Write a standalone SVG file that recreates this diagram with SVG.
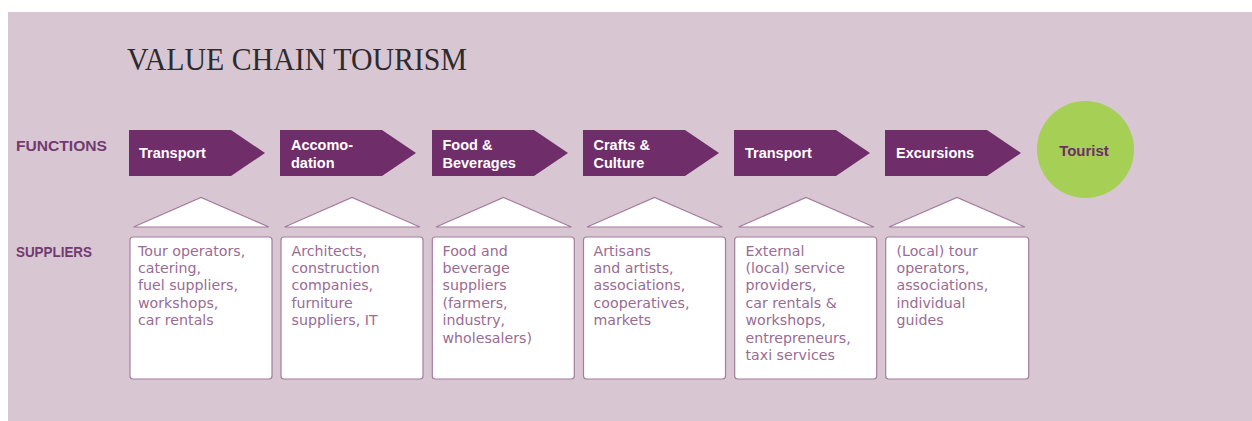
<svg xmlns="http://www.w3.org/2000/svg" width="1252" height="421" viewBox="0 0 1252 421">
<style>
.bg{fill:#d8c7d3}
.arrow{fill:#6f2d6a}
.lab{font-family:"Liberation Sans",Arial,sans-serif;font-weight:bold;font-size:14.5px;fill:#ffffff}
.side{font-family:"Liberation Sans",Arial,sans-serif;font-weight:bold;font-size:15px;fill:#733a70}
.box{fill:#ffffff;stroke:#a47d9f;stroke-width:1.2}
.tri{fill:#ffffff;stroke:#a47d9f;stroke-width:1.2}
.txt{font-family:"DejaVu Sans",Verdana,sans-serif;font-size:14.2px;fill:#9a6b94}
.title{font-family:"Liberation Serif","Times New Roman",serif;font-size:32px;fill:#2e2a2e}
</style>
<rect class="bg" x="8" y="12" width="1244" height="409"/>
<text class="title" x="127" y="70" textLength="340" lengthAdjust="spacingAndGlyphs">VALUE CHAIN TOURISM</text>
<text class="side" x="16" y="150.5" textLength="91" lengthAdjust="spacingAndGlyphs">FUNCTIONS</text>
<text class="side" x="16" y="256.5" textLength="76" lengthAdjust="spacingAndGlyphs">SUPPLIERS</text>

<g id="f1"><polygon class="arrow" points="129,130 231,130 265,153 231,176 129,176"/><text class="lab" x="139" y="157.5">Transport</text></g>
<g id="f2"><polygon class="arrow" points="280,130 382,130 416,153 382,176 280,176"/><text class="lab" x="291" y="149.5">Accomo-</text><text class="lab" x="291" y="168">dation</text></g>
<g id="f3"><polygon class="arrow" points="432,130 534,130 568,153 534,176 432,176"/><text class="lab" x="442.5" y="149.5">Food &amp;</text><text class="lab" x="442.5" y="168">Beverages</text></g>
<g id="f4"><polygon class="arrow" points="583,130 685,130 719,153 685,176 583,176"/><text class="lab" x="593.5" y="149.5">Crafts &amp;</text><text class="lab" x="593.5" y="168">Culture</text></g>
<g id="f5"><polygon class="arrow" points="734,130 836,130 870,153 836,176 734,176"/><text class="lab" x="745" y="157.5">Transport</text></g>
<g id="f6"><polygon class="arrow" points="885,130 987,130 1021,153 987,176 885,176"/><text class="lab" x="896" y="157.5">Excursions</text></g>
<g id="tourist"><circle cx="1085.5" cy="149.5" r="48.5" fill="#a6cf56"/><text x="1084" y="156" text-anchor="middle" font-family="'Liberation Sans',Arial,sans-serif" font-weight="bold" font-size="15px" fill="#6f2d6a">Tourist</text></g>

<g id="connectors">
<polygon class="tri" points="133.5,227 201,197.5 269,227"/>
<polygon class="tri" points="284.5,227 352,197.5 420,227"/>
<polygon class="tri" points="436,227 503.5,197.5 571.5,227"/>
<polygon class="tri" points="587,227 654.5,197.5 722.5,227"/>
<polygon class="tri" points="738.5,227 806,197.5 874,227"/>
<polygon class="tri" points="889,227 957,197.5 1025,227"/>
</g>

<g id="s1"><rect class="box" x="130" y="237" width="142" height="142" rx="3"/>
<text class="txt"><tspan x="138" y="255.5">Tour operators,</tspan><tspan x="138" dy="17.4">catering,</tspan><tspan x="138" dy="17.4">fuel suppliers,</tspan><tspan x="138" dy="17.4">workshops,</tspan><tspan x="138" dy="17.4">car rentals</tspan></text></g>
<g id="s2"><rect class="box" x="281" y="237" width="142" height="142" rx="3"/>
<text class="txt"><tspan x="291.5" y="255.5">Architects,</tspan><tspan x="291.5" dy="17.4">construction</tspan><tspan x="291.5" dy="17.4">companies,</tspan><tspan x="291.5" dy="17.4">furniture</tspan><tspan x="291.5" dy="17.4">suppliers, IT</tspan></text></g>
<g id="s3"><rect class="box" x="432.3" y="237" width="142" height="142" rx="3"/>
<text class="txt"><tspan x="442.5" y="255.5">Food and</tspan><tspan x="442.5" dy="17.4">beverage</tspan><tspan x="442.5" dy="17.4">suppliers</tspan><tspan x="442.5" dy="17.4">(farmers,</tspan><tspan x="442.5" dy="17.4">industry,</tspan><tspan x="442.5" dy="17.4">wholesalers)</tspan></text></g>
<g id="s4"><rect class="box" x="583.5" y="237" width="142" height="142" rx="3"/>
<text class="txt"><tspan x="593.5" y="255.5">Artisans</tspan><tspan x="593.5" dy="17.4">and artists,</tspan><tspan x="593.5" dy="17.4">associations,</tspan><tspan x="593.5" dy="17.4">cooperatives,</tspan><tspan x="593.5" dy="17.4">markets</tspan></text></g>
<g id="s5"><rect class="box" x="734.7" y="237" width="142" height="142" rx="3"/>
<text class="txt"><tspan x="745.5" y="255.5">External</tspan><tspan x="745.5" dy="17.4">(local) service</tspan><tspan x="745.5" dy="17.4">providers,</tspan><tspan x="745.5" dy="17.4">car rentals &amp;</tspan><tspan x="745.5" dy="17.4">workshops,</tspan><tspan x="745.5" dy="17.4">entrepreneurs,</tspan><tspan x="745.5" dy="17.4">taxi services</tspan></text></g>
<g id="s6"><rect class="box" x="885.7" y="237" width="143" height="142" rx="3"/>
<text class="txt"><tspan x="896.5" y="255.5">(Local) tour</tspan><tspan x="896.5" dy="17.4">operators,</tspan><tspan x="896.5" dy="17.4">associations,</tspan><tspan x="896.5" dy="17.4">individual</tspan><tspan x="896.5" dy="17.4">guides</tspan></text></g>
</svg>
